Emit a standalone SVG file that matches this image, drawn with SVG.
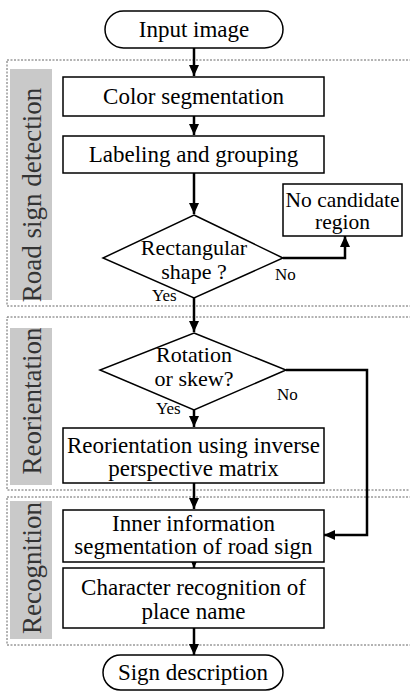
<svg xmlns="http://www.w3.org/2000/svg" width="410" height="692" viewBox="0 0 410 692">
<style>
.bg{fill:#fff}
.sec{fill:none;stroke:#666;stroke-width:1;stroke-dasharray:2 1.5}
.col{fill:#c9c9c9}
.lbl{font-family:"Liberation Serif","Times New Roman","DejaVu Serif",serif;font-size:27px;fill:#333;text-anchor:middle}
.box{fill:#fff;stroke:#000;stroke-width:1.5}
.t{font-family:"Liberation Serif","Times New Roman","DejaVu Serif",serif;font-size:23px;fill:#000;text-anchor:middle}
.d{font-size:22px}
.s{font-family:"Liberation Serif","Times New Roman","DejaVu Serif",serif;font-size:17px;fill:#000}
.c{fill:none;stroke:#000;stroke-width:2.5}
</style>
<defs>
<marker id="ah" markerUnits="userSpaceOnUse" markerWidth="12" markerHeight="12" refX="11" refY="5" orient="auto">
<path d="M0,0 L11,5 L0,10 Z" fill="#000"/>
</marker>
</defs>
<rect class="bg" width="410" height="692"/>
<g id="sections">
<rect class="sec" x="7" y="60" width="410" height="246"/>
<rect class="col" x="10" y="69" width="42" height="231"/>
<text class="lbl" transform="translate(41,195) rotate(-90)">Road sign detection</text>
<rect class="sec" x="7" y="317" width="410" height="173"/>
<rect class="col" x="10" y="328" width="42" height="157"/>
<text class="lbl" transform="translate(41,401) rotate(-90)">Reorientation</text>
<rect class="sec" x="7" y="497" width="410" height="148"/>
<rect class="col" x="10" y="501" width="42" height="138"/>
<text class="lbl" transform="translate(41,568) rotate(-90)">Recognition</text>
</g>
<g id="connectors">
<path class="c" d="M194,48 V76" marker-end="url(#ah)"/>
<path class="c" d="M194,116 V135" marker-end="url(#ah)"/>
<path class="c" d="M194,173 V214" marker-end="url(#ah)"/>
<path class="c" d="M283,258 H345 V236" marker-end="url(#ah)"/>
<path class="c" d="M194,298 V332" marker-end="url(#ah)"/>
<path class="c" d="M194,410 V427" marker-end="url(#ah)"/>
<path class="c" d="M286,370 H367 V535 H324" marker-end="url(#ah)"/>
<path class="c" d="M194,483 V509" marker-end="url(#ah)"/>
<path class="c" d="M194,561 V568" marker-end="url(#ah)"/>
<path class="c" d="M194,628 V655" marker-end="url(#ah)"/>
</g>
<g id="input">
<rect class="box" x="105" y="11" width="178" height="37" rx="18.5"/>
<text class="t" x="194" y="37">Input image</text>
</g>
<g id="color">
<rect class="box" x="63" y="77" width="261" height="39"/>
<text class="t" x="193.5" y="104">Color segmentation</text>
</g>
<g id="labeling">
<rect class="box" x="63" y="136" width="261" height="37"/>
<text class="t" x="193.5" y="162">Labeling and grouping</text>
</g>
<g id="nocand">
<rect class="box" x="283" y="184" width="119" height="52"/>
<text class="t" x="342.5" y="207" style="font-size:21.5px">No candidate</text>
<text class="t" x="342.5" y="229" style="font-size:21.5px">region</text>
</g>
<g id="rect">
<polygon class="box" points="194,215 283,258 194,298 103,258"/>
<text class="t d" x="194" y="255">Rectangular</text>
<text class="t d" x="194" y="279">shape ?</text>
<text class="s" x="275" y="280">No</text>
<text class="s" x="152" y="301">Yes</text>
</g>
<g id="rot">
<polygon class="box" points="194,333 286,370 194,410 100,370"/>
<text class="t d" x="194" y="362">Rotation</text>
<text class="t d" x="194" y="386">or skew?</text>
<text class="s" x="277" y="400">No</text>
<text class="s" x="156" y="414">Yes</text>
</g>
<g id="reorient">
<rect class="box" x="63" y="428" width="261" height="55"/>
<text class="t" x="193.5" y="453">Reorientation using inverse</text>
<text class="t" x="193.5" y="476">perspective matrix</text>
</g>
<g id="inner">
<rect class="box" x="63" y="510" width="261" height="52"/>
<text class="t" x="193.5" y="531">Inner information</text>
<text class="t" x="193.5" y="554">segmentation of road sign</text>
</g>
<g id="charrec">
<rect class="box" x="63" y="568" width="261" height="60"/>
<text class="t" x="193.5" y="595">Character recognition of</text>
<text class="t" x="193.5" y="619">place name</text>
</g>
<g id="output">
<rect class="box" x="103" y="655" width="180" height="35" rx="17.5"/>
<text class="t" x="193" y="680">Sign description</text>
</g>
</svg>
